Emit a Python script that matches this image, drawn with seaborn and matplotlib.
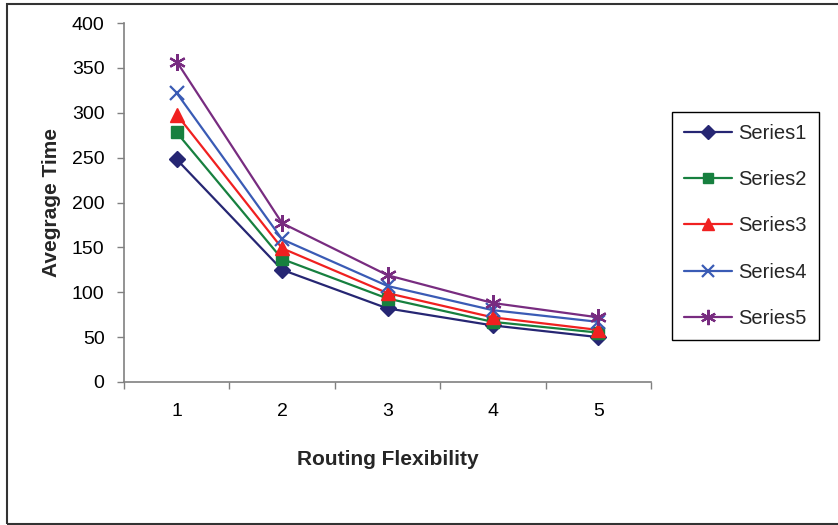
import matplotlib
matplotlib.use("Agg")
import matplotlib.pyplot as plt
import matplotlib.patches as mpatches
from matplotlib.ticker import FixedLocator
import seaborn as sns
import pandas as pd

categories = [1, 2, 3, 4, 5]
series1 = [248, 125, 82, 63, 50]
series2 = [278, 137, 93, 67, 55]
series3 = [298, 149, 99, 72, 58]
series4 = [322, 159, 107, 80, 67]
series5 = [357, 177, 119, 88, 72]
series_names = ["Series1", "Series2", "Series3", "Series4", "Series5"]
y_ticks = [0, 50, 100, 150, 200, 250, 300, 350, 400]

colors = {"Series1": "#262673", "Series2": "#17803F", "Series3": "#F02020",
          "Series4": "#3A5BB5", "Series5": "#782C80"}
markers = {"Series1": "D", "Series2": "s", "Series3": "^",
           "Series4": "x", "Series5": (6, 2, 0)}
msizes = {"Series1": 8, "Series2": 8, "Series3": 10, "Series4": 10, "Series5": 12}

rows = []
for name, vals in zip(series_names, [series1, series2, series3, series4, series5]):
    for c, v in zip(categories, vals):
        rows.append({"x": c, "y": v, "series": name})
df = pd.DataFrame(rows)

sns.set_style("white")
plt.rcParams["font.family"] = ["Liberation Sans", "DejaVu Sans"]

fig = plt.figure(figsize=(8.38, 5.25), dpi=100)
W, H = 838, 525
ax = fig.add_axes([124 / W, 1 - 382 / H, (651 - 124) / W, (382 - 23) / H])

for name in series_names:
    sub = df[df["series"] == name]
    sns.lineplot(data=sub, x="x", y="y", ax=ax, color=colors[name],
                 marker=markers[name], markersize=msizes[name],
                 markeredgecolor=colors[name], markerfacecolor=colors[name],
                 markeredgewidth=1.6 if name in ("Series4", "Series5") else 1,
                 linewidth=1.6, label=name, legend=False)

ax.set_xlim(0.5, 5.5)
ax.set_ylim(0, 400)
ax.set_yticks(y_ticks)
ax.set_xticks(categories)
ax.xaxis.set_minor_locator(FixedLocator([0.5, 1.5, 2.5, 3.5, 4.5, 5.5]))
ax.tick_params(axis="x", which="major", length=0, pad=15, labelsize=14, colors="black")
ax.tick_params(axis="x", which="minor", length=5, width=1, color="#808080", direction="out", bottom=True)
ax.tick_params(axis="y", which="major", length=5, width=1, color="#808080", direction="out",
               left=True, pad=9, labelsize=14, labelcolor="black")

for s in ["top", "right"]:
    ax.spines[s].set_visible(False)
for s in ["left", "bottom"]:
    ax.spines[s].set_color("#808080")
    ax.spines[s].set_linewidth(1.2)

ax.set_xlabel("Routing Flexibility", fontsize=15, fontweight="bold", labelpad=22)
ax.set_ylabel("Avegrage Time", fontsize=15, fontweight="bold", labelpad=8)
ax.grid(False)

handles = [plt.Line2D([], [], color=colors[n], marker=markers[n], markersize=msizes[n] - 1,
                      markerfacecolor=colors[n], markeredgecolor=colors[n],
                      markeredgewidth=1.6 if n in ("Series4", "Series5") else 1,
                      linewidth=1.6) for n in series_names]
leg = fig.legend(handles, series_names, loc="upper left",
                 bbox_to_anchor=(672 / W, 1 - 112 / H), fontsize=14.5,
                 frameon=True, fancybox=False, framealpha=1, edgecolor="black",
                 handlelength=2.4, labelspacing=1.35, borderpad=0.6, handletextpad=0.3,
                 borderaxespad=0)
leg.get_frame().set_linewidth(1.0)

border = mpatches.Rectangle((7 / W, 1 - 524 / H), (845 - 7) / W, (524 - 4) / H,
                            transform=fig.transFigure, fill=False,
                            edgecolor="#333333", linewidth=1.5, clip_on=False)
fig.patches.append(border)

fig.savefig("out.png", dpi=100)
